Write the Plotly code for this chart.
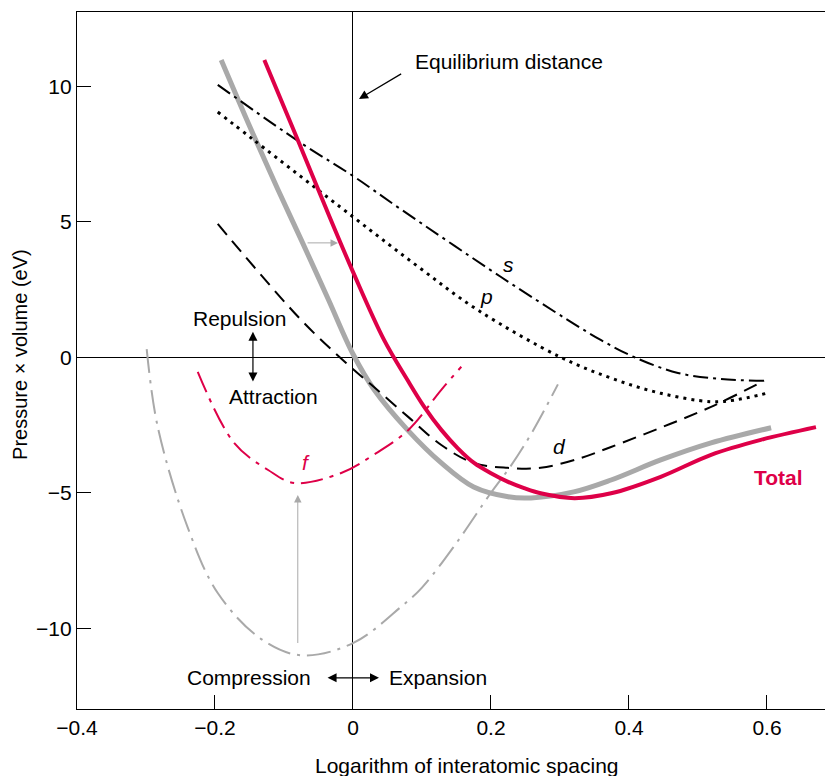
import plotly.graph_objs as go

# curve data
gray_x = [-0.191, -0.148, -0.109, -0.073, -0.036, 0.0, 0.031, 0.079, 0.128, 0.175, 0.225, 0.258, 0.32, 0.374, 0.446, 0.519, 0.606]
gray_y = [10.97, 8.42, 6.2, 4.22, 2.15, 0.12, -1.21, -2.68, -3.9, -4.79, -5.15, -5.19, -4.97, -4.53, -3.79, -3.16, -2.6]

total_x = [-0.1285, -0.08, -0.04, 0.0, 0.045, 0.079, 0.103, 0.128, 0.152, 0.176, 0.2, 0.224, 0.248, 0.272, 0.321,
           0.374, 0.446, 0.519, 0.591, 0.671]
total_y = [10.97, 8.02, 5.55, 3.15, 0.64, -0.84, -1.82, -2.68, -3.36, -3.91, -4.28, -4.59, -4.83, -5.02, -5.2,
           -5.02, -4.41, -3.6, -3.05, -2.58]

s_x = [-0.196, -0.075, 0.0, 0.07, 0.214, 0.311, 0.359, 0.408, 0.471, 0.533, 0.596]
s_y = [10.05, 7.9, 6.69, 5.45, 2.97, 1.38, 0.64, 0.0, -0.58, -0.8, -0.87]

p_x = [-0.196, -0.143, 0.0, 0.094, 0.181, 0.301, 0.374, 0.446, 0.519, 0.553, 0.601]
p_y = [9.05, 8.0, 5.18, 3.35, 1.74, 0.0, -0.77, -1.33, -1.64, -1.58, -1.32]

d_x = [-0.196, -0.075, -0.01, 0.03, 0.08, 0.128, 0.175, 0.224, 0.272, 0.33, 0.374, 0.446, 0.519, 0.596]
d_y = [4.92, 1.37, -0.21, -1.09, -2.2, -3.24, -3.9, -4.08, -4.08, -3.72, -3.31, -2.6, -1.83, -0.87]

f_x = [-0.225, -0.172, -0.123, -0.085, -0.017, 0.03, 0.08, 0.128, 0.157]
f_y = [-0.54, -3.17, -4.16, -4.64, -4.27, -3.6, -2.69, -1.2, -0.35]

lower_x = [-0.299, -0.283, -0.24, -0.196, -0.133, -0.075, 0.0, 0.07, 0.1, 0.15, 0.2, 0.229, 0.26, 0.297]
lower_y = [0.3, -2.57, -6.25, -8.7, -10.4, -11.0, -10.55, -9.2, -8.5, -6.85, -5.0, -4.0, -2.75, -1.0]

x_ticks = [-0.4, -0.2, 0, 0.2, 0.4, 0.6]
x_ticktext = ['\u22120.4', '\u22120.2', '0', '0.2', '0.4', '0.6']
y_ticks = [10, 5, 0, -5, -10]
y_ticktext = ['10', '5', '0', '\u22125', '\u221210']

RED = '#DE0048'
GRAY = '#A9A9A9'
FONT = 'Liberation Sans, Arial, sans-serif'

fig = go.Figure()

fig.add_trace(go.Scatter(x=gray_x, y=gray_y, mode='lines', line=dict(color=GRAY, width=5, shape='spline')))
fig.add_trace(go.Scatter(x=lower_x, y=lower_y, mode='lines',
                         line=dict(color=GRAY, width=2, shape='spline', dash='24px,7px,3px,7px')))
fig.add_trace(go.Scatter(x=s_x, y=s_y, mode='lines',
                         line=dict(color='black', width=2, shape='spline', dash='15px,5px,3px,5px')))
fig.add_trace(go.Scatter(x=p_x, y=p_y, mode='lines',
                         line=dict(color='black', width=3, shape='spline', dash='3px,5px')))
fig.add_trace(go.Scatter(x=d_x, y=d_y, mode='lines',
                         line=dict(color='black', width=2, shape='spline', dash='14px,8px')))
fig.add_trace(go.Scatter(x=f_x, y=f_y, mode='lines',
                         line=dict(color=RED, width=2, shape='spline', dash='22px,7px,4px,7px')))
fig.add_trace(go.Scatter(x=total_x, y=total_y, mode='lines', line=dict(color=RED, width=4, shape='spline')))

ann = []

def label(x, y, text, color='black', size=21, italic=False, bold=False, anchor='center'):
    if italic:
        text = '<i>' + text + '</i>'
    if bold:
        text = '<b>' + text + '</b>'
    ann.append(dict(x=x, y=y, xref='x', yref='y', text=text, showarrow=False, xanchor=anchor,
                    yanchor='middle', font=dict(family=FONT, size=size, color=color)))

def arrow(x, y, ax, ay, color='black', both=False, width=1.2):
    a = dict(x=x, y=y, ax=ax, ay=ay, xref='x', yref='y', axref='x', ayref='y', text='',
             showarrow=True, arrowhead=2, arrowsize=1.5, arrowwidth=width, arrowcolor=color)
    if both:
        a.update(arrowside='end+start', startarrowhead=2, startarrowsize=1.5)
    ann.append(a)

label(0.087, 10.9, 'Equilibrium distance', anchor='left')
arrow(0.0087, 9.53, 0.072, 10.49)
arrow(-0.0217, 4.22, -0.068, 4.22, color=GRAY, width=1)
label(-0.165, 1.44, 'Repulsion')
label(-0.1145, -1.46, 'Attraction')
arrow(-0.145, 0.94, -0.145, -0.95, both=True)
arrow(-0.08, -5.08, -0.08, -10.6, color=GRAY, width=1)
label(-0.151, -11.83, 'Compression')
label(0.123, -11.83, 'Expansion')
arrow(0.0377, -11.83, -0.039, -11.83, both=True)
label(0.226, 3.41, 's', italic=True)
label(0.194, 2.23, 'p', italic=True)
label(0.3, -3.3, 'd', italic=True)
label(-0.068, -3.9, 'f', color=RED, italic=True)
label(0.616, -4.45, 'Total', color=RED, bold=True)

# axis titles
ann.append(dict(x=0.165, y=0, xref='x', yref='paper', yshift=-56, text='Logarithm of interatomic spacing',
                showarrow=False, xanchor='center', yanchor='middle', font=dict(family=FONT, size=21)))
ann.append(dict(x=0, y=0.508, xref='paper', yref='paper', xshift=-57, text='Pressure \u00d7 volume (eV)',
                textangle=-90, showarrow=False, xanchor='center', yanchor='middle',
                font=dict(family=FONT, size=20)))

# page body has an 8px margin, so the figure is sized/offset to land the plot where the reference has it
fig.update_layout(
    width=825, height=768,
    margin=dict(l=69, r=0, t=4, b=67),
    plot_bgcolor='white', paper_bgcolor='white',
    showlegend=False,
    font=dict(family=FONT, size=21, color='black'),
    annotations=ann,
    xaxis=dict(range=[-0.4, 0.6957], tickvals=x_ticks, ticktext=x_ticktext, ticks='inside', ticklen=14,
               tickcolor='black', showline=True, linecolor='black', linewidth=1.3, mirror=True,
               showgrid=False, zeroline=True, zerolinecolor='black', zerolinewidth=1.2),
    yaxis=dict(range=[-12.98, 12.74], tickvals=y_ticks, ticktext=y_ticktext, ticks='inside', ticklen=14,
               tickcolor='black', showline=True, linecolor='black', linewidth=1.3,
               showgrid=False, zeroline=True, zerolinecolor='black', zerolinewidth=1.2),
)

fig.write_html("out.html")
